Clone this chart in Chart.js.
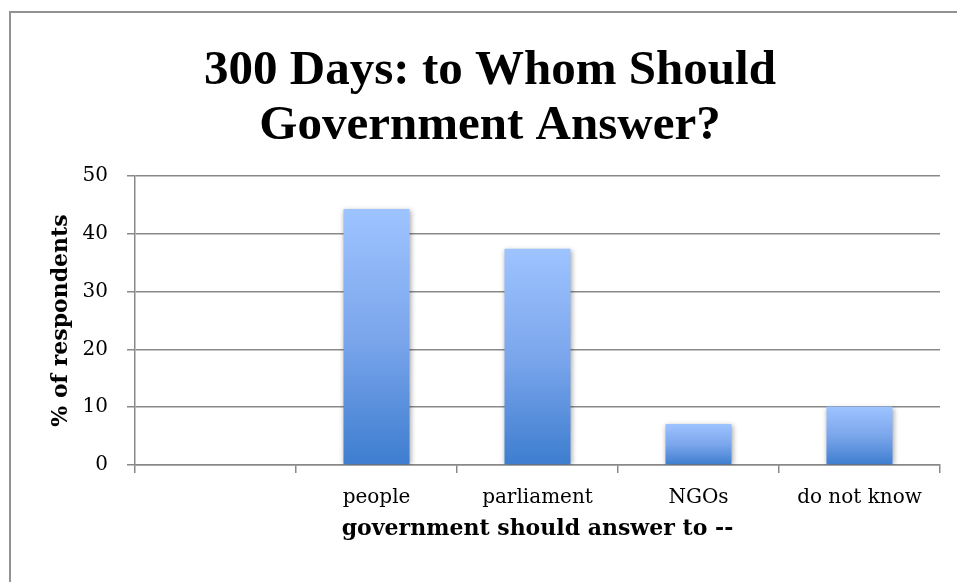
<!DOCTYPE html>
<html>
<head>
<meta charset="utf-8">
<script src="https://cdn.jsdelivr.net/npm/chart.js@4"></script>
<style>
  html, body { margin: 0; padding: 0; background: #ffffff; }
  #wrap { width: 957px; height: 582px; position: relative; }
</style>
</head>
<body>
<div id="wrap"><canvas id="c" width="957" height="582"></canvas></div>
<script>
const titleLines = ['300 Days: to Whom Should', 'Government Answer?'];
const categories = ['', 'people', 'parliament', 'NGOs', 'do not know'];
const values = [null, 44.3, 37.4, 7.1, 10.1];
const yTitle = '% of respondents';
const xTitle = 'government should answer to --';
const yMin = 0, yMax = 50, yStep = 10;

const SERIF = '"DejaVu Serif", "Liberation Serif", serif';
const TITLE_SERIF = '"Liberation Serif", "DejaVu Serif", serif';
const GRID = '#898989';

function barGradient(ctx) {
  const chart = ctx.chart;
  const area = chart.chartArea;
  if (!area || ctx.type !== 'data' || ctx.raw == null) return '#7ea8ea';
  const y = chart.scales.y;
  const top = y.getPixelForValue(ctx.raw);
  const bot = y.getPixelForValue(0);
  if (!isFinite(top) || !isFinite(bot) || top === bot) return '#7ea8ea';
  const g = chart.ctx.createLinearGradient(0, top, 0, bot);
  g.addColorStop(0, '#9ec4ff');
  g.addColorStop(0.5, '#7ba6ec');
  g.addColorStop(1, '#3d7dcf');
  return g;
}

const frame = {
  id: 'frame',
  beforeDraw(chart) {
    const c = chart.ctx;
    c.save();
    c.strokeStyle = '#929292';
    c.lineWidth = 2;
    c.strokeRect(10, 12, 2000, 2000);
    c.restore();
  }
};

const shadow = {
  id: 'shadow',
  beforeDatasetsDraw(chart) {
    const c = chart.ctx;
    c.save();
    c.shadowColor = 'rgba(0,0,0,0.35)';
    c.shadowBlur = 5;
    c.shadowOffsetX = 1;
    c.shadowOffsetY = 1;
  },
  afterDatasetsDraw(chart) {
    chart.ctx.restore();
  }
};

new Chart(document.getElementById('c'), {
  type: 'bar',
  data: {
    labels: categories,
    datasets: [{
      data: values,
      backgroundColor: barGradient,
      borderWidth: 0,
      barPercentage: 0.41,
      categoryPercentage: 1.0
    }]
  },
  plugins: [frame, shadow],
  options: {
    responsive: false,
    animation: false,
    events: [],
    layout: { padding: { left: 40, right: 17, top: 0, bottom: 0 } },
    plugins: {
      legend: { display: false },
      tooltip: { enabled: false },
      title: {
        display: true,
        text: titleLines,
        color: '#000000',
        font: { family: TITLE_SERIF, size: 49, weight: 'bold', lineHeight: 55 / 49 },
        padding: { top: 44, bottom: 22 }
      }
    },
    scales: {
      x: {
        afterFit(s) { s.height = 117; },
        grid: {
          display: true,
          drawOnChartArea: false,
          drawTicks: true,
          tickLength: 8,
          color: GRID,
          lineWidth: 1.5,
          offset: true
        },
        border: { display: true, color: GRID, width: 1.5 },
        ticks: {
          color: '#000000',
          font: { family: SERIF, size: 20 },
          padding: 13,
          maxRotation: 0,
          autoSkip: false
        },
        title: {
          display: true,
          text: xTitle,
          color: '#000000',
          font: { family: SERIF, size: 22, weight: 'bold', lineHeight: 1.2 },
          padding: { top: 4, bottom: 40 }
        }
      },
      y: {
        min: yMin,
        max: yMax,
        afterFit(s) { s.width = 95; },
        grid: {
          display: true,
          drawOnChartArea: true,
          drawTicks: true,
          tickLength: 8,
          color: GRID,
          lineWidth: 1.5
        },
        border: { display: true, color: GRID, width: 1.5 },
        ticks: {
          stepSize: yStep,
          color: '#000000',
          font: { family: SERIF, size: 20 },
          padding: 19
        },
        title: {
          display: true,
          text: yTitle,
          color: '#000000',
          font: { family: SERIF, size: 22, weight: 'bold', lineHeight: 1.2 },
          padding: { top: 8, bottom: 0 }
        }
      }
    }
  }
});
</script>
</body>
</html>
